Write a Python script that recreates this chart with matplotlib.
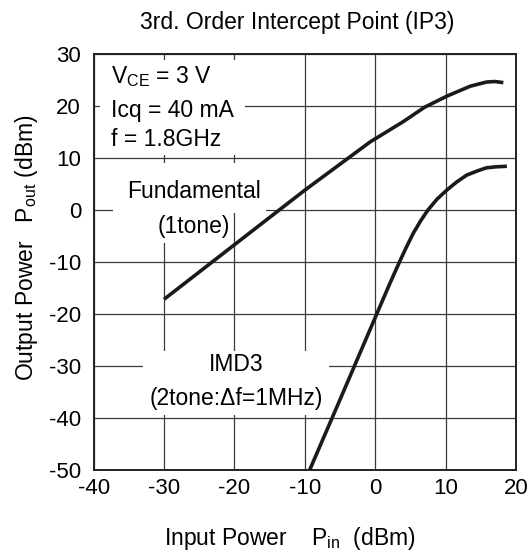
import matplotlib
matplotlib.use('Agg')
import matplotlib.pyplot as plt
from matplotlib.patches import Rectangle

plt.rcParams['font.family'] = ['Liberation Sans', 'DejaVu Sans']
plt.rcParams['mathtext.fontset'] = 'custom'
plt.rcParams['mathtext.rm'] = 'Liberation Sans'
plt.rcParams['mathtext.it'] = 'Liberation Sans:italic'
plt.rcParams['axes.unicode_minus'] = False

# Fundamental (1 tone) output power
fund_pin = [-30, -20, -10, -5, -0.7, 4, 7, 10.2, 13.5, 15.8, 17, 18.2]
fund_pout = [-17.2, -6.7, 3.8, 8.8, 13.1, 17, 19.75, 21.9, 23.8, 24.6, 24.7, 24.5]

# IMD3 (2 tone) output power
imd_pin = [-9.3, -5, 0, 2, 3.05, 4.2, 5.4, 6.5, 7.5, 8.8, 10.2, 11.6, 13.0, 14.5, 15.8, 17.2, 18.7]
imd_pout = [-50, -36.5, -20.7, -14.4, -11.2, -7.8, -4.5, -2.0, 0, 2.1, 3.85, 5.4, 6.7, 7.5, 8.1, 8.3, 8.4]

xticks = [-40, -30, -20, -10, 0, 10, 20]
yticks = [30, 20, 10, 0, -10, -20, -30, -40, -50]

fs = 16.5
fig = plt.figure(figsize=(5.28, 5.52), dpi=100)
ax = fig.add_axes([0.1773, 0.1489, 0.8, 0.7533])

ax.plot(fund_pin, fund_pout, color='#1a1a1a', lw=2.6, solid_capstyle='butt', zorder=4)
ax.plot(imd_pin, imd_pout, color='#1a1a1a', lw=2.6, solid_capstyle='butt', zorder=4)

ax.set_xlim(-40, 20)
ax.set_ylim(-50, 30)
ax.set_xticks(xticks)
ax.set_yticks(yticks)
ax.tick_params(length=0, labelsize=16)
ax.tick_params(axis='y', pad=9)
ax.tick_params(axis='x', pad=6)
ax.grid(True, color='#3a3a3a', lw=0.9)
ax.set_axisbelow(True)
for s in ax.spines.values():
    s.set_linewidth(1.4)
    s.set_color('#222222')

# white blocks behind the annotations (they hide the grid)
for (x0, y0, x1, y1) in [(-39.1, 10.5, -18.5, 28.8),
                         (-37.2, -0.5, -15.5, 9.0),
                         (-32.0, -6.3, -20.3, -0.4),
                         (-33.0, -39.4, -6.6, -27.1)]:
    ax.add_patch(Rectangle((x0, y0), x1 - x0, y1 - y0, facecolor='white',
                           edgecolor='none', zorder=2))

ax.text(-37.6, 25.6, r'V$_{\mathrm{CE}}$ = 3 V', fontsize=fs, va='center', ha='left', zorder=3)
ax.text(-37.6, 19.2, 'Icq = 40 mA', fontsize=fs, va='center', ha='left', zorder=3)
ax.text(-37.6, 13.6, 'f = 1.8GHz', fontsize=fs, va='center', ha='left', zorder=3)
ax.text(-25.8, 3.5, 'Fundamental', fontsize=fs, va='center', ha='center', zorder=3)
ax.text(-25.8, -3.1, '(1tone)', fontsize=fs, va='center', ha='center', zorder=3)
ax.text(-19.7, -29.8, 'IMD3', fontsize=fs, va='center', ha='center', zorder=3)
ax.text(-19.7, -36.2, '(2tone:Δf=1MHz)', fontsize=fs, va='center', ha='center', zorder=3)

fig.text(297 / 528, 1 - 22 / 552, '3rd. Order Intercept Point (IP3)', fontsize=fs,
         ha='center', va='center')
fig.text(290 / 528, 1 - 538 / 552, r'Input Power    P$_{\mathrm{in}}$  (dBm)', fontsize=fs,
         ha='center', va='center')
fig.text(27 / 528, 1 - 248 / 552, r'Output Power   P$_{\mathrm{out}}$ (dBm)', fontsize=fs,
         ha='center', va='center', rotation=90)

fig.savefig('out.png', dpi=100)
